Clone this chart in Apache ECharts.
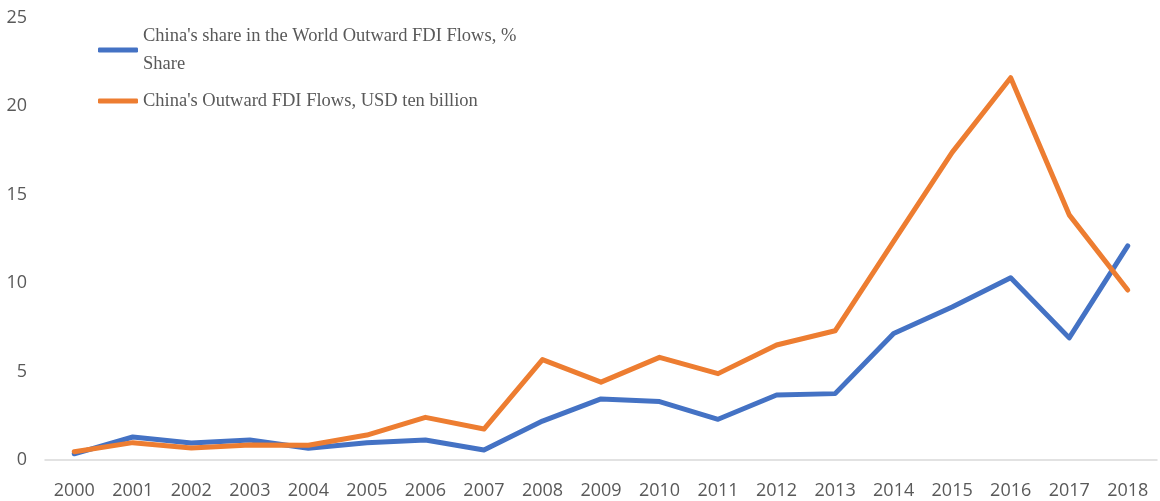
<!DOCTYPE html>
<html>
<head>
<meta charset="utf-8">
<script src="https://cdn.jsdelivr.net/npm/echarts@6/dist/echarts.min.js"></script>
<style>
html,body{margin:0;padding:0;background:#fff;}
#chart{width:1160px;height:501px;}
</style>
</head>
<body>
<div id="chart"></div>
<script>
var years = ['2000','2001','2002','2003','2004','2005','2006','2007','2008','2009','2010','2011','2012','2013','2014','2015','2016','2017','2018'];
var shareName = "China's share in the World Outward FDI Flows, % Share";
var flowsName = "China's Outward FDI Flows, USD ten billion";
var shareValues = [0.35,1.3,0.96,1.13,0.66,0.98,1.13,0.56,2.2,3.45,3.3,2.3,3.67,3.75,7.15,8.64,10.3,6.9,12.1];
var flowsValues = [0.47,0.98,0.68,0.85,0.83,1.41,2.41,1.75,5.67,4.4,5.8,4.88,6.5,7.3,12.35,17.38,21.6,13.85,9.6];
var yTicks = [0,5,10,15,20,25];

var chart = echarts.init(document.getElementById('chart'));
chart.setOption({
  animation:false,
  grid:{left:45,right:3,top:17.5,bottom:41,containLabel:false},
  legend:[{
    data:[{name:shareName}],
    left:93, top:3,
    itemWidth:40, itemHeight:5,
    icon:'roundRect',
    formatter:function(n){ return "China's share in the World Outward FDI Flows, %\nShare"; },
    textStyle:{fontFamily:'Liberation Serif',fontSize:18.5,color:'#595959',lineHeight:28,padding:[28,0,0,0]}
  },{
    data:[{name:flowsName}],
    left:93, top:82,
    itemWidth:40, itemHeight:5,
    icon:'roundRect',
    textStyle:{fontFamily:'Liberation Serif',fontSize:18.5,color:'#595959',lineHeight:28}
  }],
  xAxis:{
    type:'category',
    data:years,
    boundaryGap:true,
    axisLine:{lineStyle:{color:'#d9d9d9',width:1.5}},
    axisTick:{show:false},
    axisLabel:{fontFamily:'Open Sans',fontSize:18,color:'#595959',margin:22,interval:0}
  },
  yAxis:{
    type:'value',
    min:yTicks[0], max:yTicks[yTicks.length-1], interval:5,
    splitLine:{show:false},
    axisLine:{show:false},
    axisTick:{show:false},
    axisLabel:{fontFamily:'Open Sans',fontSize:18,color:'#595959',margin:18}
  },
  series:[{
    name:shareName,type:'line',data:shareValues,
    symbol:'none',lineStyle:{color:'#4472C4',width:5,cap:'round',join:'round'},
    itemStyle:{color:'#4472C4'}
  },{
    name:flowsName,type:'line',data:flowsValues,
    symbol:'none',lineStyle:{color:'#ED7D31',width:5,cap:'round',join:'round'},
    itemStyle:{color:'#ED7D31'}
  }]
});
</script>
</body>
</html>
